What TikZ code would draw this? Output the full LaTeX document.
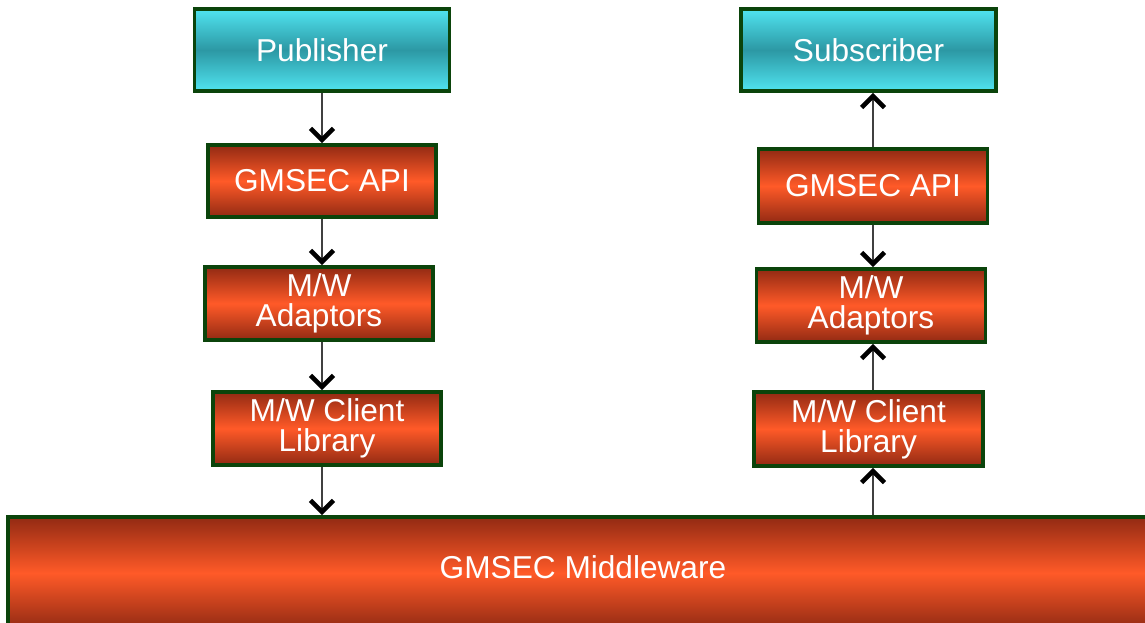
\documentclass[tikz,border=0pt]{standalone}
\usepackage{fontspec}
\setmainfont{Liberation Sans}
\usetikzlibrary{positioning}
\usetikzlibrary{arrows.meta}
\definecolor{boxgreen}{HTML}{0B440B}
\definecolor{redtop}{HTML}{922A13}
\definecolor{redmid}{HTML}{FF5A28}
\definecolor{cyantop}{HTML}{50E4F0}
\definecolor{cyanmid}{HTML}{2C98A4}

\begin{document}
\begin{tikzpicture}[
    layer/.style={draw=boxgreen, line width=2.2pt, text=white, align=center,
        font=\fontsize{18}{17}\selectfont, inner sep=0pt,
        top color=redtop, bottom color=redtop, middle color=redmid},
    client/.style={layer, top color=cyantop, bottom color=cyantop, middle color=cyanmid},
    flow/.style={draw=black!75, line width=1.1pt,
        -{Straight Barb[length=6.5pt,width=13pt,line width=2.6pt,color=black]}}]
            \useasboundingbox (0,0) rectangle (22.9,12.44);
            % Publisher side
            \node[client, minimum width=5.1cm, minimum height=1.64cm] (pub) at (6.44,11.44) {Publisher};
            \node[layer, minimum width=4.56cm, minimum height=1.44cm] (apiL) at (6.44,8.82) {GMSEC API};
            \node[layer, minimum width=4.56cm, minimum height=1.46cm] (adL) at (6.38,6.37) {M/W\\Adaptors};
            \node[layer, minimum width=4.56cm, minimum height=1.46cm] (clL) at (6.54,3.87) {M/W Client\\Library};
            % Subscriber side
            \node[client, minimum width=5.1cm, minimum height=1.64cm] (sub) at (17.37,11.44) {Subscriber};
            \node[layer, minimum width=4.58cm, minimum height=1.48cm] (apiR) at (17.46,8.72) {GMSEC API};
            \node[layer, minimum width=4.58cm, minimum height=1.46cm] (adR) at (17.42,6.33) {M/W\\Adaptors};
            \node[layer, minimum width=4.58cm, minimum height=1.48cm] (clR) at (17.37,3.86) {M/W Client\\Library};
            % Middleware
            \node[layer, minimum width=23cm, minimum height=2.24cm, text depth=0.24cm] (mw) at (11.66,0.98) {GMSEC Middleware};

            \draw[flow] (pub.south) -- (pub.south |- apiL.north);
            \draw[flow] (apiL.south) -- (apiL.south |- adL.north);
            \draw[flow] (adL.south -| apiL) -- (clL.north -| apiL);
            \draw[flow] (clL.south -| apiL) -- (mw.north -| apiL);
            \draw[flow] (mw.north -| apiR) -- (clR.south -| apiR);
            \draw[flow] (clR.north -| apiR) -- (adR.south -| apiR);
            \draw[flow] (apiR.south) -- (apiR.south |- adR.north);
            \draw[flow] (apiR.north) -- (apiR.north |- sub.south);
        \end{tikzpicture}
\end{document}
